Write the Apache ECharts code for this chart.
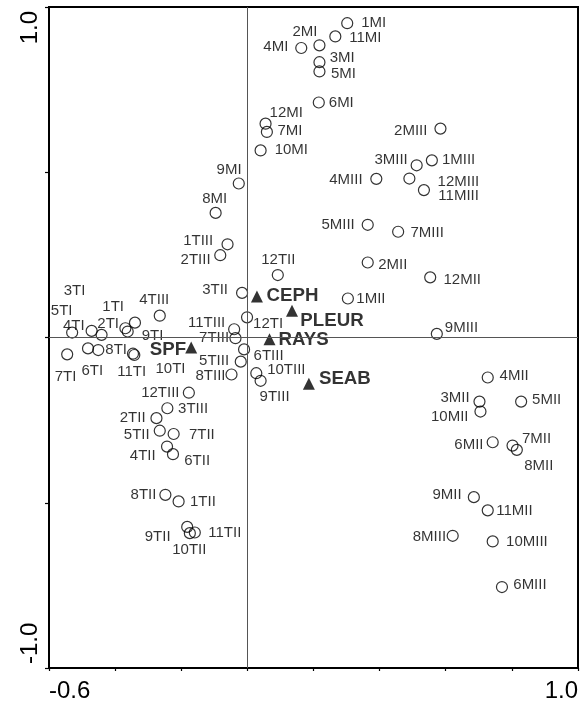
<!DOCTYPE html>
<html>
<head>
<meta charset="utf-8">
<script src="https://cdn.jsdelivr.net/npm/echarts@6/dist/echarts.min.js"></script>
<style>
  html, body { margin: 0; padding: 0; background: #fff; }
  #chart { width: 581px; height: 704px; }
</style>
</head>
<body>
<div id="chart"></div>
<script>
// Ordination biplot: sampling sites (circles) and environmental variables (triangles).
// Site scores, grouped by series; site i of a group is labelled (i+1) + suffix.
const MI_X   = [0.302, 0.218, 0.218, 0.163, 0.218, 0.216, 0.059, -0.096, -0.026, 0.040, 0.266, 0.055];
const MI_Y   = [0.951, 0.884, 0.833, 0.876, 0.805, 0.711, 0.622, 0.377, 0.466, 0.566, 0.911, 0.647];
const MII_X  = [0.304, 0.364, 0.702, 0.727, 0.828, 0.742, 0.802, 0.815, 0.685, 0.705, 0.727, 0.553];
const MII_Y  = [0.118, 0.227, -0.194, -0.121, -0.194, -0.317, -0.327, -0.340, -0.483, -0.224, -0.523, 0.182];
const MIII_X = [0.558, 0.584, 0.512, 0.390, 0.364, 0.770, 0.456, 0.621, 0.573, 0.742, 0.534, 0.490];
const MIII_Y = [0.536, 0.632, 0.521, 0.480, 0.341, -0.755, 0.320, -0.600, 0.011, -0.617, 0.446, 0.481];
const TI_X   = [-0.340, -0.369, -0.441, -0.530, -0.471, -0.482, -0.545, -0.451, -0.362, -0.342, -0.346, -0.001];
const TI_Y   = [0.045, 0.028, 0.008, 0.015, 0.020, -0.033, -0.051, -0.038, 0.018, -0.053, -0.049, 0.061];
const TII_X  = [-0.208, -0.275, -0.016, -0.243, -0.265, -0.225, -0.223, -0.248, -0.182, -0.174, -0.159, 0.092];
const TII_Y  = [-0.496, -0.244, 0.135, -0.330, -0.282, -0.353, -0.292, -0.476, -0.573, -0.592, -0.590, 0.189];
const TIII_X = [-0.060, -0.082, -0.242, -0.265, -0.020, -0.010, -0.036, -0.048, 0.040, 0.027, -0.040, -0.177];
const TIII_Y = [0.282, 0.249, -0.214, 0.066, -0.073, -0.036, -0.002, -0.112, -0.131, -0.108, 0.025, -0.167];

// Environmental variable scores
const ENV_NAMES = ['CEPH', 'PLEUR', 'RAYS', 'SEAB', 'SPF'];
const ENV_X = [0.029, 0.135, 0.067, 0.186, -0.170];
const ENV_Y = [0.124, 0.081, -0.005, -0.140, -0.030];

// Axis tick labels
const X_TICK_LABELS = [-0.6, 1.0];
const Y_TICK_LABELS = [-1.0, 1.0];

// Label placement (pixel offset of the label centre from its marker)
const labelOffset = {
  '1MI': [26.5, 0], '2MI': [-14.5, -13.3], '3MI': [22.7, -4.5], '4MI': [-25.4, -0.7],
  '5MI': [24, 2.3], '6MI': [22.5, 0.5], '7MI': [23, -1], '8MI': [-1, -14.4],
  '9MI': [-9.7, -14.1], '10MI': [30.7, -0.5], '11MI': [30, 1], '12MI': [20.7, -10.6],
  '1MII': [23, 0.5], '2MII': [25, 2.7], '3MII': [-24.5, -3.4], '4MII': [26.4, -1.5],
  '5MII': [25.5, -1.7], '6MII': [-23.8, 3], '7MII': [24, -6.4], '8MII': [22, 16],
  '9MII': [-26.8, -2.3], '10MII': [-30.7, 5], '11MII': [26.7, 1], '12MII': [32, 2.7],
  '1MIII': [26.7, 0], '2MIII': [-29.7, 2], '3MIII': [-25.6, -5.3], '4MIII': [-30.4, 0.5],
  '5MIII': [-29.6, 0.5], '6MIII': [28, -2.3], '7MIII': [29, 1], '8MIII': [-23.3, 0.7],
  '9MIII': [24.7, -6.2], '10MIII': [34.2, 0], '11MIII': [34.7, 5.8], '12MIII': [49, 3],
  '1TI': [-21.8, -15.9], '2TI': [-17.2, -4.1], '3TI': [-27, -44.2], '4TI': [1.7, -6.9],
  '5TI': [-30, -20.2], '6TI': [4.2, 22.5], '7TI': [-1.6, 22.7], '8TI': [17.9, -0.2],
  '9TI': [24.8, 4.1], '10TI': [36.2, 14], '11TI': [-1.3, 18], '12TI': [21, 6.4],
  '1TII': [24.3, 0.5], '2TII': [-23.8, 0], '3TII': [-27, -2.7], '4TII': [-24.3, 9],
  '5TII': [-23, 4], '6TII': [24.2, 7], '7TII': [28.2, 1], '8TII': [-21.9, 0.2],
  '9TII': [-29.5, 10], '10TII': [-0.5, 17], '11TII': [30, 0.3], '12TII': [0.5, -15.2],
  '1TIII': [-29.4, -3.2], '2TIII': [-24.7, 4.2], '3TIII': [25.7, 0.3], '4TIII': [-5.5, -15.9],
  '5TIII': [-26.7, -0.7], '6TIII': [24.5, 6.5], '7TIII': [-21.4, -0.8], '8TIII': [-21, 1.5],
  '9TIII': [14, 16.3], '10TIII': [30, -3.6], '11TIII': [-27.5, -6.8], '12TIII': [-28.5, 0.6],
  'CEPH': [35.5, -1], 'PLEUR': [40, 10], 'RAYS': [34, 1], 'SEAB': [36, -4.7], 'SPF': [-23.3, 2]
};

const FONT = '"Liberation Sans", Arial, Helvetica, sans-serif';

function siteSeries(suffix, xs, ys) {
  return {
    type: 'scatter',
    name: suffix,
    symbol: 'circle',
    symbolSize: 11,
    itemStyle: { color: 'rgba(0,0,0,0)', borderColor: '#000', borderWidth: 1.2 },
    label: {
      show: true, position: 'inside', formatter: '{b}',
      color: '#000', fontSize: 15, fontFamily: FONT, textBorderWidth: 0
    },
    data: xs.map((x, i) => {
      const name = (i + 1) + suffix;
      return { name: name, value: [x, ys[i]], label: { offset: labelOffset[name] || [22, 0] } };
    }),
    z: 3
  };
}

const envSeries = {
  type: 'scatter',
  name: 'env',
  symbol: 'triangle',
  symbolSize: 12,
  itemStyle: { color: '#000' },
  label: {
    show: true, position: 'inside', formatter: '{b}',
    color: '#000', fontSize: 18.7, fontWeight: 'bold', fontFamily: FONT, textBorderWidth: 0
  },
  data: ENV_NAMES.map((n, i) => ({ name: n, value: [ENV_X[i], ENV_Y[i]], label: { offset: labelOffset[n] } })),
  z: 4
};

// Zero lines through the origin
const originLines = {
  type: 'scatter',
  data: [],
  silent: true,
  markLine: {
    silent: true,
    symbol: ['none', 'none'],
    label: { show: false },
    lineStyle: { color: '#555', width: 1, type: 'solid' },
    data: [{ xAxis: 0 }, { yAxis: 0 }],
    animation: false
  },
  z: 1
};

const near = (v, list) => list.some(t => Math.abs(v - t) < 1e-9);

const chart = echarts.init(document.getElementById('chart'), null, { renderer: 'canvas' });
chart.setOption({
  animation: false,
  backgroundColor: '#fff',
  grid: {
    left: 49, right: 2, top: 7, bottom: 36,
    show: true, borderColor: '#000', borderWidth: 2, backgroundColor: 'transparent'
  },
  xAxis: {
    type: 'value', min: -0.6, max: 1.0, interval: 0.2,
    splitLine: { show: false },
    axisLine: { show: true, onZero: false, lineStyle: { color: '#000', width: 2 } },
    axisTick: { show: true, length: 3, lineStyle: { color: '#000', width: 1.2 } },
    axisLabel: {
      show: true, margin: 11, fontSize: 24, color: '#000', fontFamily: FONT,
      showMinLabel: true, showMaxLabel: true,
      alignMinLabel: 'left', alignMaxLabel: 'right',
      formatter: v => near(v, X_TICK_LABELS) ? v.toFixed(1) : ''
    }
  },
  yAxis: {
    type: 'value', min: -1.0, max: 1.0, interval: 0.5,
    splitLine: { show: false },
    axisLine: { show: true, onZero: false, lineStyle: { color: '#000', width: 2 } },
    axisTick: { show: true, length: 4, lineStyle: { color: '#000', width: 1.2 } },
    axisLabel: {
      show: true, margin: 7, fontSize: 24, color: '#000', fontFamily: FONT, rotate: 90,
      showMinLabel: true, showMaxLabel: true,
      alignMinLabel: 'left', alignMaxLabel: 'right',
      padding: [0, 4, 0, 4],
      formatter: v => near(v, Y_TICK_LABELS) ? v.toFixed(1) : ''
    }
  },
  series: [
    originLines,
    siteSeries('MI', MI_X, MI_Y),
    siteSeries('MII', MII_X, MII_Y),
    siteSeries('MIII', MIII_X, MIII_Y),
    siteSeries('TI', TI_X, TI_Y),
    siteSeries('TII', TII_X, TII_Y),
    siteSeries('TIII', TIII_X, TIII_Y),
    envSeries
  ]
});
</script>
</body>
</html>
